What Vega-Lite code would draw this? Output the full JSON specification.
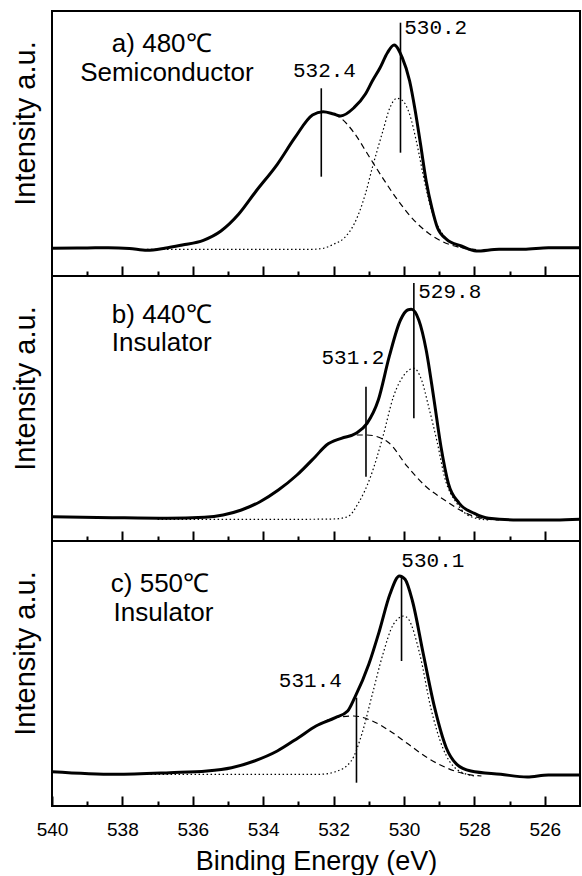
{
  "$schema": "https://vega.github.io/schema/vega-lite/v6.json",
  "padding": {"left": 10, "top": 10, "right": 4, "bottom": 0},
  "background": "white",
  "bounds": "flush",
  "config": {
    "view": {"stroke": "black", "strokeWidth": 2},
    "concat": {"spacing": 0},
    "axis": {"grid": false, "domain": false, "tickColor": "black", "labelColor": "black", "titleColor": "black", "labelFont": "Liberation Sans", "titleFont": "Liberation Sans", "titleFontWeight": "normal"}
  },
  "datasets": {
    "curves": [
      {"p":"a","c":"total","E":540,"I":27.7},{"p":"a","c":"total","E":539,"I":28},{"p":"a","c":"total","E":538.4,"I":28.3},{"p":"a","c":"total","E":537.8,"I":27.5},{"p":"a","c":"total","E":537.3,"I":25.7},{"p":"a","c":"total","E":536.8,"I":27.7},{"p":"a","c":"total","E":536.3,"I":31},{"p":"a","c":"total","E":535.7,"I":35.7},{"p":"a","c":"total","E":535.2,"I":45},{"p":"a","c":"total","E":534.7,"I":61.7},{"p":"a","c":"total","E":534.2,"I":85},{"p":"a","c":"total","E":533.6,"I":111.7},{"p":"a","c":"total","E":533.1,"I":138.3},{"p":"a","c":"total","E":532.6,"I":161},{"p":"a","c":"total","E":532.3,"I":164.3},{"p":"a","c":"total","E":532.0,"I":162},{"p":"a","c":"total","E":531.8,"I":160},{"p":"a","c":"total","E":531.42,"I":168.3},{"p":"a","c":"total","E":531.1,"I":181.7},{"p":"a","c":"total","E":530.9,"I":195},{"p":"a","c":"total","E":530.68,"I":208.3},{"p":"a","c":"total","E":530.47,"I":223.3},{"p":"a","c":"total","E":530.28,"I":231},{"p":"a","c":"total","E":530.05,"I":218.3},{"p":"a","c":"total","E":529.84,"I":195},{"p":"a","c":"total","E":529.68,"I":165},{"p":"a","c":"total","E":529.53,"I":131.7},{"p":"a","c":"total","E":529.37,"I":95},{"p":"a","c":"total","E":529.21,"I":68.3},{"p":"a","c":"total","E":529.05,"I":48.3},{"p":"a","c":"total","E":528.79,"I":36.7},{"p":"a","c":"total","E":528.37,"I":30},{"p":"a","c":"total","E":527.95,"I":25},{"p":"a","c":"total","E":527.3,"I":26.7},{"p":"a","c":"total","E":526.6,"I":26.7},{"p":"a","c":"total","E":525.9,"I":28.3},{"p":"a","c":"total","E":525,"I":28.3},
      {"p":"a","c":"comp1","E":536.5,"I":30},{"p":"a","c":"comp1","E":535.7,"I":35.7},{"p":"a","c":"comp1","E":535.2,"I":45},{"p":"a","c":"comp1","E":534.7,"I":61.7},{"p":"a","c":"comp1","E":534.2,"I":85},{"p":"a","c":"comp1","E":533.6,"I":111.7},{"p":"a","c":"comp1","E":533.1,"I":138.3},{"p":"a","c":"comp1","E":532.6,"I":161},{"p":"a","c":"comp1","E":532.3,"I":164.3},{"p":"a","c":"comp1","E":532.0,"I":162},{"p":"a","c":"comp1","E":531.8,"I":158},{"p":"a","c":"comp1","E":531.42,"I":143.3},{"p":"a","c":"comp1","E":531.0,"I":120},{"p":"a","c":"comp1","E":530.58,"I":96.7},{"p":"a","c":"comp1","E":530.16,"I":75},{"p":"a","c":"comp1","E":529.74,"I":56.7},{"p":"a","c":"comp1","E":529.32,"I":43.3},{"p":"a","c":"comp1","E":528.9,"I":34.3},{"p":"a","c":"comp1","E":528.37,"I":28.3},{"p":"a","c":"comp1","E":527.95,"I":26.5},
      {"p":"a","c":"comp2","E":537.3,"I":26.7},{"p":"a","c":"comp2","E":536,"I":26.7},{"p":"a","c":"comp2","E":534,"I":26.7},{"p":"a","c":"comp2","E":532.6,"I":26.7},{"p":"a","c":"comp2","E":532.3,"I":27.7},{"p":"a","c":"comp2","E":532.0,"I":31.7},{"p":"a","c":"comp2","E":531.7,"I":38},{"p":"a","c":"comp2","E":531.42,"I":51.7},{"p":"a","c":"comp2","E":531.1,"I":81.7},{"p":"a","c":"comp2","E":530.9,"I":108.3},{"p":"a","c":"comp2","E":530.6,"I":145},{"p":"a","c":"comp2","E":530.4,"I":168.3},{"p":"a","c":"comp2","E":530.2,"I":177.7},{"p":"a","c":"comp2","E":530.05,"I":175.7},{"p":"a","c":"comp2","E":529.84,"I":161.7},{"p":"a","c":"comp2","E":529.63,"I":131.7},{"p":"a","c":"comp2","E":529.42,"I":95},{"p":"a","c":"comp2","E":529.21,"I":65},{"p":"a","c":"comp2","E":528.9,"I":41.7},{"p":"a","c":"comp2","E":528.47,"I":30},{"p":"a","c":"comp2","E":528.05,"I":25.7},
      {"p":"b","c":"total","E":540,"I":24.3},{"p":"b","c":"total","E":538.29,"I":23.3},{"p":"b","c":"total","E":536.72,"I":22.7},{"p":"b","c":"total","E":535.67,"I":23.7},{"p":"b","c":"total","E":535.14,"I":26},{"p":"b","c":"total","E":534.62,"I":31},{"p":"b","c":"total","E":534.09,"I":39.3},{"p":"b","c":"total","E":533.57,"I":51},{"p":"b","c":"total","E":533.04,"I":66},{"p":"b","c":"total","E":532.52,"I":84.3},{"p":"b","c":"total","E":532.2,"I":96},{"p":"b","c":"total","E":531.78,"I":102.7},{"p":"b","c":"total","E":531.36,"I":107.7},{"p":"b","c":"total","E":531.05,"I":117.7},{"p":"b","c":"total","E":530.73,"I":141},{"p":"b","c":"total","E":530.42,"I":184.3},{"p":"b","c":"total","E":530.1,"I":221},{"p":"b","c":"total","E":529.9,"I":231},{"p":"b","c":"total","E":529.79,"I":231.7},{"p":"b","c":"total","E":529.58,"I":221},{"p":"b","c":"total","E":529.37,"I":191},{"p":"b","c":"total","E":529.16,"I":144.3},{"p":"b","c":"total","E":528.95,"I":94.3},{"p":"b","c":"total","E":528.74,"I":57.7},{"p":"b","c":"total","E":528.43,"I":37.7},{"p":"b","c":"total","E":528.0,"I":27.7},{"p":"b","c":"total","E":527.59,"I":22.7},{"p":"b","c":"total","E":526.75,"I":21},{"p":"b","c":"total","E":525.7,"I":21},{"p":"b","c":"total","E":525,"I":21.7},
      {"p":"b","c":"comp1","E":534.09,"I":39.3},{"p":"b","c":"comp1","E":533.57,"I":51},{"p":"b","c":"comp1","E":533.04,"I":66},{"p":"b","c":"comp1","E":532.52,"I":84.3},{"p":"b","c":"comp1","E":532.2,"I":96},{"p":"b","c":"comp1","E":531.78,"I":102.7},{"p":"b","c":"comp1","E":531.4,"I":106},{"p":"b","c":"comp1","E":531.05,"I":106},{"p":"b","c":"comp1","E":530.47,"I":99.3},{"p":"b","c":"comp1","E":529.9,"I":74.3},{"p":"b","c":"comp1","E":529.37,"I":54.3},{"p":"b","c":"comp1","E":528.85,"I":41},{"p":"b","c":"comp1","E":528.32,"I":29.3},{"p":"b","c":"comp1","E":527.8,"I":22.7},{"p":"b","c":"comp1","E":527.3,"I":21},
      {"p":"b","c":"comp2","E":537,"I":21.7},{"p":"b","c":"comp2","E":535,"I":21.7},{"p":"b","c":"comp2","E":533,"I":21.7},{"p":"b","c":"comp2","E":532,"I":22},{"p":"b","c":"comp2","E":531.6,"I":24.3},{"p":"b","c":"comp2","E":531.3,"I":37.7},{"p":"b","c":"comp2","E":530.95,"I":64.3},{"p":"b","c":"comp2","E":530.6,"I":104.3},{"p":"b","c":"comp2","E":530.3,"I":144.3},{"p":"b","c":"comp2","E":530.0,"I":166},{"p":"b","c":"comp2","E":529.72,"I":172.7},{"p":"b","c":"comp2","E":529.5,"I":161},{"p":"b","c":"comp2","E":529.3,"I":134.3},{"p":"b","c":"comp2","E":529.05,"I":97.7},{"p":"b","c":"comp2","E":528.85,"I":64.3},{"p":"b","c":"comp2","E":528.5,"I":37.7},{"p":"b","c":"comp2","E":528.1,"I":24.3},{"p":"b","c":"comp2","E":527.6,"I":21},
      {"p":"c","c":"total","E":540,"I":34.3},{"p":"c","c":"total","E":538.2,"I":31.7},{"p":"c","c":"total","E":536.65,"I":33.3},{"p":"c","c":"total","E":535.6,"I":35},{"p":"c","c":"total","E":534.9,"I":38.3},{"p":"c","c":"total","E":534.25,"I":45},{"p":"c","c":"total","E":533.6,"I":55},{"p":"c","c":"total","E":533.0,"I":68.3},{"p":"c","c":"total","E":532.5,"I":80},{"p":"c","c":"total","E":531.95,"I":88.3},{"p":"c","c":"total","E":531.6,"I":95},{"p":"c","c":"total","E":531.4,"I":108.3},{"p":"c","c":"total","E":531.0,"I":141.7},{"p":"c","c":"total","E":530.7,"I":175},{"p":"c","c":"total","E":530.4,"I":211.7},{"p":"c","c":"total","E":530.13,"I":230},{"p":"c","c":"total","E":529.97,"I":226.7},{"p":"c","c":"total","E":529.76,"I":205},{"p":"c","c":"total","E":529.45,"I":151.7},{"p":"c","c":"total","E":529.13,"I":98.3},{"p":"c","c":"total","E":528.8,"I":58.3},{"p":"c","c":"total","E":528.5,"I":41.7},{"p":"c","c":"total","E":528.1,"I":35},{"p":"c","c":"total","E":527.25,"I":31.7},{"p":"c","c":"total","E":526.5,"I":29},{"p":"c","c":"total","E":525.9,"I":31},{"p":"c","c":"total","E":525,"I":31},
      {"p":"c","c":"comp1","E":534.25,"I":45},{"p":"c","c":"comp1","E":533.6,"I":55},{"p":"c","c":"comp1","E":533.0,"I":68.3},{"p":"c","c":"comp1","E":532.5,"I":80},{"p":"c","c":"comp1","E":531.95,"I":88.3},{"p":"c","c":"comp1","E":531.43,"I":90},{"p":"c","c":"comp1","E":530.9,"I":85},{"p":"c","c":"comp1","E":530.4,"I":75},{"p":"c","c":"comp1","E":529.87,"I":61.7},{"p":"c","c":"comp1","E":529.34,"I":48.3},{"p":"c","c":"comp1","E":528.8,"I":38.3},{"p":"c","c":"comp1","E":528.3,"I":32.3},{"p":"c","c":"comp1","E":527.8,"I":30},
      {"p":"c","c":"comp2","E":537.2,"I":31.7},{"p":"c","c":"comp2","E":535,"I":31.7},{"p":"c","c":"comp2","E":533,"I":31.7},{"p":"c","c":"comp2","E":532.4,"I":31.7},{"p":"c","c":"comp2","E":531.95,"I":34.3},{"p":"c","c":"comp2","E":531.5,"I":45},{"p":"c","c":"comp2","E":531.2,"I":71.7},{"p":"c","c":"comp2","E":530.9,"I":111.7},{"p":"c","c":"comp2","E":530.6,"I":151.7},{"p":"c","c":"comp2","E":530.3,"I":181.7},{"p":"c","c":"comp2","E":530.0,"I":190},{"p":"c","c":"comp2","E":529.87,"I":186.7},{"p":"c","c":"comp2","E":529.55,"I":151.7},{"p":"c","c":"comp2","E":529.24,"I":98.3},{"p":"c","c":"comp2","E":528.9,"I":58.3},{"p":"c","c":"comp2","E":528.5,"I":36.7},{"p":"c","c":"comp2","E":528.0,"I":30}
    ],
    "marks": [
      {"p":"a","E":532.35,"I":99.3,"I2":187.7},{"p":"a","E":530.1,"I":123.3,"I2":253.3},
      {"p":"b","E":531.08,"I":64.3,"I2":154.3},{"p":"b","E":529.72,"I":122.7,"I2":258},
      {"p":"c","E":530.07,"I":145,"I2":230},{"p":"c","E":531.35,"I":23.3,"I2":108.3}
    ],
    "nums": [
      {"p":"a","E":532.26,"I":205,"t":"532.4"},{"p":"a","E":529.1,"I":247.7,"t":"530.2"},
      {"p":"b","E":531.45,"I":182.7,"t":"531.2"},{"p":"b","E":528.7,"I":249,"t":"529.8"},
      {"p":"c","E":529.18,"I":245,"t":"530.1"},{"p":"c","E":532.66,"I":125,"t":"531.4"}
    ],
    "titles": [
      {"p":"a","E":538.3,"I":232,"t":"a) 480℃"},{"p":"a","E":539.2,"I":203,"t":"Semiconductor"},
      {"p":"b","E":538.3,"I":226,"t":"b) 440℃"},{"p":"b","E":538.3,"I":198,"t":"Insulator"},
      {"p":"c","E":538.33,"I":222,"t":"c) 550℃"},{"p":"c","E":538.25,"I":193,"t":"Insulator"}
    ]
  },
  "vconcat": [
    {
      "width": 528, "height": 265,
      "encoding": {
        "x": {"field": "E", "type": "quantitative", "scale": {"domain": [525, 540], "reverse": true, "nice": false, "zero": false},
              "axis": {"values": [526,527,528,529,530,531,532,533,534,535,536,537,538,539], "title": null, "labels": false, "minExtent": 0, "maxExtent": 0, "offset": 0, "tickWidth": 2, "tickSize": {"condition": {"test": "datum.value % 2 === 0", "value": -10}, "value": -5}}},
        "y": {"field": "I", "type": "quantitative", "scale": {"domain": [0, 265], "nice": false, "zero": false},
              "axis": {"title": "Intensity a.u.", "labels": false, "ticks": false, "minExtent": 0, "maxExtent": 0, "titleFontSize": 29, "titlePadding": 12, "titleY": 112}}
      },
      "layer": [
        {"data": {"name": "curves"}, "transform": [{"filter": "datum.p === 'a' && datum.c === 'comp2'"}],
         "mark": {"type": "line", "interpolate": "monotone", "color": "black", "strokeWidth": 1.2, "strokeDash": [1.5, 2.5]}},
        {"data": {"name": "curves"}, "transform": [{"filter": "datum.p === 'a' && datum.c === 'comp1'"}],
         "mark": {"type": "line", "interpolate": "monotone", "color": "black", "strokeWidth": 1.2, "strokeDash": [6, 4]}},
        {"data": {"name": "curves"}, "transform": [{"filter": "datum.p === 'a' && datum.c === 'total'"}],
         "mark": {"type": "line", "interpolate": "monotone", "color": "black", "strokeWidth": 3}},
        {"data": {"name": "marks"}, "transform": [{"filter": "datum.p === 'a'"}],
         "mark": {"type": "rule", "color": "black", "strokeWidth": 1.6},
         "encoding": {"y2": {"field": "I2"}}},
        {"data": {"name": "nums"}, "transform": [{"filter": "datum.p === 'a'"}],
         "mark": {"type": "text", "font": "Liberation Mono", "fontSize": 21, "align": "center", "baseline": "middle", "color": "black"},
         "encoding": {"text": {"field": "t"}}},
        {"data": {"name": "titles"}, "transform": [{"filter": "datum.p === 'a'"}],
         "mark": {"type": "text", "font": "Liberation Sans", "fontSize": 26, "align": "left", "baseline": "middle", "color": "black"},
         "encoding": {"text": {"field": "t"}}}
      ]
    },
    {
      "width": 528, "height": 265,
      "encoding": {
        "x": {"field": "E", "type": "quantitative", "scale": {"domain": [525, 540], "reverse": true, "nice": false, "zero": false},
              "axis": {"values": [526,527,528,529,530,531,532,533,534,535,536,537,538,539], "title": null, "labels": false, "minExtent": 0, "maxExtent": 0, "offset": 0, "tickWidth": 2, "tickSize": {"condition": {"test": "datum.value % 2 === 0", "value": -10}, "value": -5}}},
        "y": {"field": "I", "type": "quantitative", "scale": {"domain": [0, 265], "nice": false, "zero": false},
              "axis": {"title": "Intensity a.u.", "labels": false, "ticks": false, "minExtent": 0, "maxExtent": 0, "titleFontSize": 29, "titlePadding": 12, "titleY": 112}}
      },
      "layer": [
        {"data": {"name": "curves"}, "transform": [{"filter": "datum.p === 'b' && datum.c === 'comp2'"}],
         "mark": {"type": "line", "interpolate": "monotone", "color": "black", "strokeWidth": 1.2, "strokeDash": [1.5, 2.5]}},
        {"data": {"name": "curves"}, "transform": [{"filter": "datum.p === 'b' && datum.c === 'comp1'"}],
         "mark": {"type": "line", "interpolate": "monotone", "color": "black", "strokeWidth": 1.2, "strokeDash": [6, 4]}},
        {"data": {"name": "curves"}, "transform": [{"filter": "datum.p === 'b' && datum.c === 'total'"}],
         "mark": {"type": "line", "interpolate": "monotone", "color": "black", "strokeWidth": 3}},
        {"data": {"name": "marks"}, "transform": [{"filter": "datum.p === 'b'"}],
         "mark": {"type": "rule", "color": "black", "strokeWidth": 1.6},
         "encoding": {"y2": {"field": "I2"}}},
        {"data": {"name": "nums"}, "transform": [{"filter": "datum.p === 'b'"}],
         "mark": {"type": "text", "font": "Liberation Mono", "fontSize": 21, "align": "center", "baseline": "middle", "color": "black"},
         "encoding": {"text": {"field": "t"}}},
        {"data": {"name": "titles"}, "transform": [{"filter": "datum.p === 'b'"}],
         "mark": {"type": "text", "font": "Liberation Sans", "fontSize": 26, "align": "left", "baseline": "middle", "color": "black"},
         "encoding": {"text": {"field": "t"}}}
      ]
    },
    {
      "width": 528, "height": 265,
      "encoding": {
        "x": {"field": "E", "type": "quantitative", "scale": {"domain": [525, 540], "reverse": true, "nice": false, "zero": false},
              "axis": {"values": [526,527,528,529,530,531,532,533,534,535,536,537,538,539,540], "title": "Binding Energy (eV)", "labels": true, "labelFlush": false, "labelOverlap": false,
                       "labelExpr": "datum.value % 2 === 0 ? datum.label : ''", "labelFontSize": 19, "labelPadding": 24,
                       "titleFontSize": 27, "titlePadding": 4, "tickWidth": 2, "tickSize": {"condition": {"test": "datum.value % 2 === 0", "value": -10}, "value": -5}}},
        "y": {"field": "I", "type": "quantitative", "scale": {"domain": [0, 265], "nice": false, "zero": false},
              "axis": {"title": "Intensity a.u.", "labels": false, "ticks": false, "minExtent": 0, "maxExtent": 0, "titleFontSize": 29, "titlePadding": 12, "titleY": 112}}
      },
      "layer": [
        {"data": {"name": "curves"}, "transform": [{"filter": "datum.p === 'c' && datum.c === 'comp2'"}],
         "mark": {"type": "line", "interpolate": "monotone", "color": "black", "strokeWidth": 1.2, "strokeDash": [1.5, 2.5]}},
        {"data": {"name": "curves"}, "transform": [{"filter": "datum.p === 'c' && datum.c === 'comp1'"}],
         "mark": {"type": "line", "interpolate": "monotone", "color": "black", "strokeWidth": 1.2, "strokeDash": [6, 4]}},
        {"data": {"name": "curves"}, "transform": [{"filter": "datum.p === 'c' && datum.c === 'total'"}],
         "mark": {"type": "line", "interpolate": "monotone", "color": "black", "strokeWidth": 3}},
        {"data": {"name": "marks"}, "transform": [{"filter": "datum.p === 'c'"}],
         "mark": {"type": "rule", "color": "black", "strokeWidth": 1.6},
         "encoding": {"y2": {"field": "I2"}}},
        {"data": {"name": "nums"}, "transform": [{"filter": "datum.p === 'c'"}],
         "mark": {"type": "text", "font": "Liberation Mono", "fontSize": 21, "align": "center", "baseline": "middle", "color": "black"},
         "encoding": {"text": {"field": "t"}}},
        {"data": {"name": "titles"}, "transform": [{"filter": "datum.p === 'c'"}],
         "mark": {"type": "text", "font": "Liberation Sans", "fontSize": 26, "align": "left", "baseline": "middle", "color": "black"},
         "encoding": {"text": {"field": "t"}}}
      ]
    }
  ]
}
